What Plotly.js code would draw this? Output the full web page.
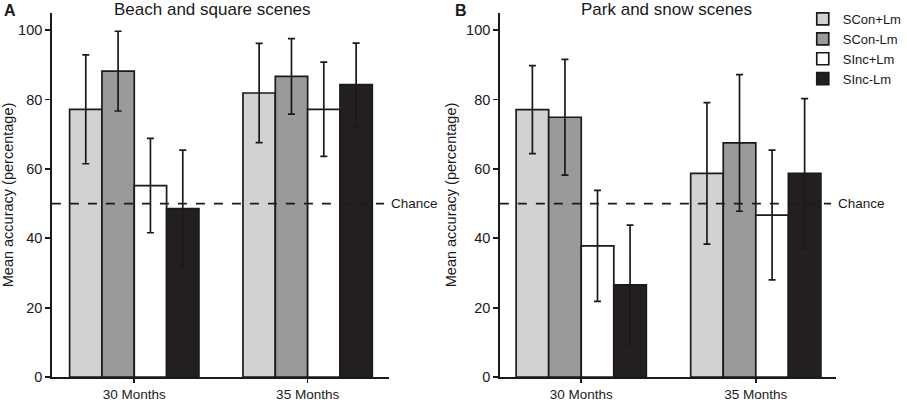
<!DOCTYPE html>
<html>
<head>
<meta charset="utf-8">
<script src="https://cdn.plot.ly/plotly-3.0.1.min.js"></script>
<style>
  html, body { margin: 0; padding: 0; background: #fff; }
  #plot { width: 907px; height: 402px; }
</style>
</head>
<body>
<div id="plot"></div>
<script>
const ages = ['30 Months', '35 Months'];
const conditions = ['SCon+Lm', 'SCon-Lm', 'SInc+Lm', 'SInc-Lm'];
const fills = ['#d2d2d2', '#9a9a9a', '#ffffff', '#231f20'];

// panel A: beach and square scenes
const beachMeans = [[77.2, 81.9], [88.2, 86.7], [55.2, 77.2], [48.6, 84.3]];
const beachErr = [[15.7, 14.3], [11.5, 10.9], [13.6, 13.6], [16.8, 12.0]];

// panel B: park and snow scenes
const parkMeans = [[77.1, 58.7], [74.9, 67.5], [37.8, 46.7], [26.6, 58.7]];
const parkErr = [[12.7, 20.4], [16.7, 19.7], [16.0, 18.7], [17.2, 21.6]];

const chance = 50;

let traces = [];
function addPanel(means, errs, xa, ya, showLegend) {
    conditions.forEach(function (name, i) {
        traces.push({
            type: 'bar',
            x: ages,
            y: means[i],
            name: name,
            xaxis: xa,
            yaxis: ya,
            showlegend: showLegend,
            marker: { color: fills[i], line: { color: '#1a1a1a', width: 1.7 } },
            error_y: { type: 'data', array: errs[i], visible: true, color: '#1a1a1a', thickness: 1.7, width: 3.5 }
        });
    });
}
addPanel(beachMeans, beachErr, 'x', 'y', false);
addPanel(parkMeans, parkErr, 'x2', 'y2', true);

const font = { family: 'Liberation Sans, Arial, sans-serif', color: '#1a1a1a' };

function xAxis(domain, anchor, range) {
    return {
        domain: domain, anchor: anchor, range: range,
        showline: true, linecolor: '#1a1a1a', linewidth: 1.7,
        ticks: 'outside', ticklen: 4, tickwidth: 1.7, tickcolor: '#1a1a1a',
        showgrid: false, zeroline: false,
        tickfont: { size: 13.5 }
    };
}
function yAxis(anchor) {
    return {
        domain: [0.062, 0.968], anchor: anchor, range: [0, 105],
        tickvals: [0, 20, 40, 60, 80, 100],
        showline: true, linecolor: '#1a1a1a', linewidth: 1.7,
        ticks: 'outside', ticklen: 5, tickwidth: 1.7, tickcolor: '#1a1a1a',
        showgrid: false, zeroline: false,
        tickfont: { size: 14.5 },
        title: { text: 'Mean accuracy (percentage)', font: { size: 14.5 }, standoff: 6 }
    };
}

function chanceLine(xr, yr) {
    return {
        type: 'line', xref: xr + ' domain', yref: yr,
        x0: 0, x1: 0.985, y0: chance, y1: chance,
        line: { color: '#1a1a1a', width: 1.7, dash: 'dash' }
    };
}

const layout = {
    width: 907, height: 402,
    margin: { l: 0, r: 0, t: 0, b: 0 },
    paper_bgcolor: '#fff', plot_bgcolor: '#fff',
    font: font,
    barmode: 'group', bargap: 0.254, bargroupgap: 0,
    xaxis: xAxis([0.0584, 0.4377], 'y', [-0.475, 1.47]),
    yaxis: yAxis('x'),
    xaxis2: xAxis([0.5623, 0.9405], 'y2', [-0.466, 1.46]),
    yaxis2: yAxis('x2'),
    shapes: [chanceLine('x', 'y'), chanceLine('x2', 'y2')],
    legend: {
        x: 0.903, y: 0.99, xanchor: 'left', yanchor: 'top',
        font: { size: 13 }, tracegroupgap: 0, itemwidth: 30,
        bgcolor: 'rgba(0,0,0,0)'
    },
    annotations: [
        { text: 'Beach and square scenes', xref: 'paper', yref: 'paper', x: 217 / 907, y: 1.005, xanchor: 'center', yanchor: 'top', showarrow: false, font: { size: 17 } },
        { text: 'Park and snow scenes', xref: 'paper', yref: 'paper', x: 680 / 907, y: 1.005, xanchor: 'center', yanchor: 'top', showarrow: false, font: { size: 17 } },
        { text: '<b>A</b>', xref: 'paper', yref: 'paper', x: 2 / 907, y: 1, xanchor: 'left', yanchor: 'top', showarrow: false, font: { size: 16 } },
        { text: '<b>B</b>', xref: 'paper', yref: 'paper', x: 462 / 907, y: 1, xanchor: 'left', yanchor: 'top', showarrow: false, font: { size: 16 } },
        { text: 'Chance', xref: 'x domain', yref: 'y', x: 1.0, y: chance, xanchor: 'left', yanchor: 'middle', showarrow: false, font: { size: 13.5 } },
        { text: 'Chance', xref: 'x2 domain', yref: 'y2', x: 1.0, y: chance, xanchor: 'left', yanchor: 'middle', showarrow: false, font: { size: 13.5 } }
    ]
};

Plotly.newPlot('plot', traces, layout, { displayModeBar: false, staticPlot: true });
</script>
</body>
</html>
